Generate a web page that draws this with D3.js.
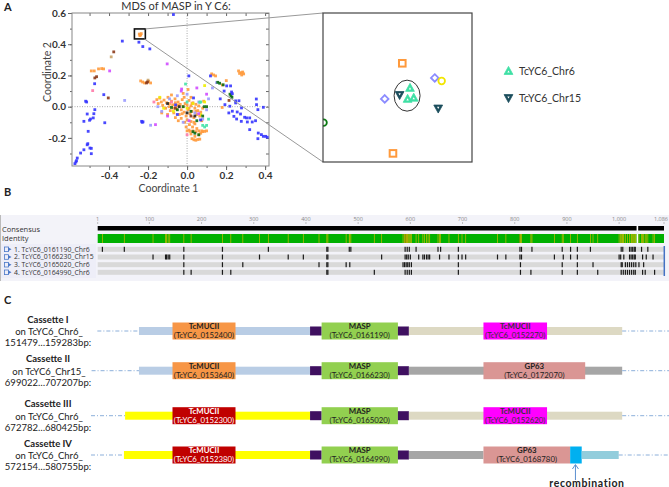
<!DOCTYPE html>
<html><head><meta charset="utf-8">
<script src="https://cdn.jsdelivr.net/npm/d3@7"></script>
<style>body{margin:0;background:#fff}svg{display:block}</style>
</head><body>
<script>
// ================= DATA =================
// Panel A: MDS scatter
const mdsTitle = "MDS of MASP  in Y C6:";
const xTicks = [-0.4, -0.2, 0.0, 0.2, 0.4];
const yTicks = [0.6, 0.4, 0.2, 0.0, -0.2];
const groupColors = {
  blue: "#3535ff", orange: "#ff9a3c", lavender: "#9a9aff", magenta: "#d04cff",
  pink: "#ff7aa8", brown: "#8b3a1a", tan: "#c9a46a", yellow: "#eeee00",
  darkgreen: "#0b6b12", aqua: "#45e3a8", black: "#222222"
};
const blueGroup = [[-0.332,0.42],[-0.247,0.413],[-0.227,0.385],[-0.191,0.37],[-0.474,0.147],[-0.427,0.077],[-0.52,0.035],[-0.515,0.03],[-0.512,-0.047],[-0.473,-0.019],[-0.478,-0.045],[-0.481,-0.072],[-0.495,-0.079],[-0.5,-0.087],[-0.529,-0.094],[-0.422,-0.103],[-0.233,-0.094],[-0.23,-0.1],[-0.226,-0.097],[-0.507,-0.158],[-0.509,-0.237],[-0.512,-0.244],[-0.498,-0.265],[-0.491,-0.267],[-0.529,-0.276],[-0.546,-0.297],[-0.491,-0.301],[-0.563,-0.329],[-0.57,-0.354],[-0.567,-0.346],[-0.575,-0.365],[-0.07,0.59],[0.009,0.197],[0.12,0.197],[0.223,0.133],[0.203,0.133],[0.249,0.037],[0.228,0.094],[0.232,0.083],[0.266,0.038],[0.249,0.024],[0.194,0.013],[0.219,0.003],[0.279,-0.008],[0.356,0.013],[0.363,-0.019],[0.214,-0.04],[0.232,-0.029],[0.257,-0.034],[0.274,-0.047],[0.24,-0.062],[0.254,-0.079],[0.295,-0.068],[0.305,-0.072],[0.321,-0.072],[0.309,-0.098],[0.278,-0.094],[0.334,-0.098],[0.351,-0.09],[0.321,-0.147],[0.365,-0.169],[0.381,-0.179],[0.391,-0.19],[0.403,-0.19],[0.411,-0.196],[0.363,-0.205],[0.355,0.049],[0.391,-0.004],[0.033,0.056],[-0.059,0.011],[0.069,-0.085],[-0.05,-0.05],[0.17,0.05],[0.19,0.1]];
const orangeGroup = [[-0.491,0.229],[-0.476,0.229],[-0.454,0.242],[-0.438,0.244],[-0.428,0.242],[-0.238,0.165],[-0.228,0.158],[-0.218,0.152],[-0.197,0.162],[-0.187,0.152],[-0.245,0.465],[-0.238,0.46],[-0.242,0.455],[-0.235,0.468],[0.136,0.203],[0.126,0.21],[0.146,0.197],[0.201,0.167],[0.181,0.139],[0.278,0.218],[0.264,0.229],[0.29,0.21],[0.28,0.203],[0.269,0.213],[0.285,0.222],
 [-0.155,0.045],[-0.148,0.02],[-0.14,0.055],[-0.132,0.03],[-0.125,0.008],[-0.118,0.042],[-0.11,-0.01],[-0.105,0.025],[-0.098,0.06],[-0.092,0.0],[-0.086,-0.025],[-0.08,0.035],[-0.074,0.012],[-0.068,-0.04],[-0.062,0.05],[-0.058,0.005],[-0.052,-0.015],[-0.046,0.03],[-0.04,-0.05],[-0.035,0.015],[-0.03,-0.02],[-0.025,0.045],[-0.02,0.0],[-0.015,-0.035],[-0.01,0.02],[-0.005,-0.06],[0.0,0.01],[0.005,-0.02],[0.01,0.04],[0.015,-0.045],[0.02,0.005],[0.025,-0.03],[0.03,0.025],[0.035,-0.07],[0.04,-0.01],[0.045,0.015],[0.05,-0.05],[0.055,-0.025],[0.06,0.005],[0.065,-0.06],[0.07,-0.035],[0.075,-0.09],[0.08,-0.01],[-0.06,-0.07],[-0.045,-0.09],[-0.03,-0.075],[-0.012,-0.1],[0.0,-0.085],[0.012,-0.115],[0.02,-0.095],[0.028,-0.13],[0.04,-0.11],[0.05,-0.14],[0.01,-0.15],[-0.005,-0.13],[0.0,-0.155],[0.015,-0.158],[0.03,-0.155],[0.045,-0.16],[0.06,-0.155],[0.075,-0.155],[0.09,-0.158],[0.1,-0.155],[0.025,-0.205],[0.035,-0.212],[0.045,-0.215],[0.055,-0.21],[0.065,-0.208],[0.04,-0.19],[0.06,-0.18],[0.07,-0.17],[0.08,-0.16],[-0.08,0.075],[-0.02,0.085],[0.02,0.06],[0.005,0.11],[0.18,-0.005],[0.085,0.035],[-0.13,-0.04],[-0.1,-0.05],
 [-0.09,0.02],[-0.07,-0.01],[-0.045,0.01],[-0.025,-0.045],[0.01,-0.01],[0.025,0.02],[0.045,-0.03],[-0.06,0.025],[-0.015,0.06],[0.035,-0.1],[0.02,-0.175]];
const lavenderGroup = [[-0.32,0.04],[-0.187,-0.119],[0.151,0.154],[-0.13,-0.03],[-0.09,0.05],[0.04,-0.04],[0.08,-0.08],[-0.02,-0.1],[0.1,-0.02],[0.0,0.08],[-0.15,0.0],[0.06,0.03],[-0.05,0.07],[0.11,0.05],[0.13,0.12]];
const magentaGroup = [[-0.102,0.274],[-0.162,-0.115],[-0.028,0.113],[-0.1,-0.06],[0.06,-0.045],[0.01,-0.09],[-0.03,0.1],[0.05,0.12],[-0.397,0.229],[0.1,0.08]];
const pinkGroup = [[-0.484,0.103],[0.0,-0.18],[-0.08,0.03],[-0.17,0.03]];
const brownGroup = [[-0.376,0.351],[-0.464,0.192],[-0.473,0.184],[-0.404,0.056],[-0.203,0.158],[-0.208,0.152],[0.02,-0.06],[-0.06,-0.01],[0.215,0.04]];
const tanGroup = [[-0.389,0.319],[-0.2,0.17]];
const yellowGroup = [[-0.12,-0.01],[-0.07,-0.03],[0.03,0.02],[0.07,-0.05],[0.09,0.03],[0.09,0.135],[-0.14,0.06],[0.0,-0.01]];
const darkgreenGroup = [[-0.05,-0.02],[-0.02,0.0],[0.02,-0.03],[0.05,-0.09],[0.04,-0.17],[0.06,-0.18],[0.1,0.0],[0.167,0.15],[0.157,0.156],[0.22,0.08],[0.23,0.06],[0.225,0.07],[0.088,0.0],[-0.08,-0.005],[0.03,-0.16],[0.08,-0.06],[0.185,0.14]];
const aquaGroup = [[0.08,-0.12],[0.09,-0.13],[0.1,-0.12],[0.0,0.03],[0.07,0.03],[-0.008,0.145],[0.065,0.028],[0.11,-0.08]];
const blackGroup = [[-0.04,0.0],[0.0,-0.04],[0.04,-0.06],[-0.1,0.02]];

// zoomed region (inset)
const insetX = [-0.270, -0.214];
const insetY = [0.434, 0.498];
const insetPoints = [
  {x:-0.2402, y:0.4764, shape:"square",  color:"#ff9a3c"},
  {x:-0.2437, y:0.4377, shape:"square",  color:"#ff9a3c"},
  {x:-0.2468, y:0.4611, shape:"diamond", color:"#8c8cff"},
  {x:-0.2280, y:0.4701, shape:"diamond", color:"#8c8cff"},
  {x:-0.2254, y:0.4688, shape:"circle",  color:"#f2e600"},
  {x:-0.2698, y:0.4509, shape:"circle",  color:"#0b7a12"},
  {x:-0.2412, y:0.4628, shape:"down",    color:"#1b4d5c"},
  {x:-0.2267, y:0.4570, shape:"down",    color:"#1b4d5c"},
  {x:-0.2373, y:0.4658, shape:"up",      color:"#3fe0a5"},
  {x:-0.2382, y:0.4611, shape:"up",      color:"#3fe0a5"},
  {x:-0.2359, y:0.4616, shape:"up",      color:"#3fe0a5"}
];
const insetCluster = {x:-0.2384, y:0.4625};
const legendItems = [{label:"TcYC6_Chr6", shape:"up", color:"#3fe0a5"},{label:"TcYC6_Chr15", shape:"down", color:"#1b4d5c"}];

// Panel B: alignment
const alnLength = 1086;
const rulerTicks = [1,100,200,300,400,500,600,700,800,900,1000,1086];
const seqNames = ["1. TcYC6_0161190_Chr6","2. TcYC6_0166230_Chr15","3. TcYC6_0165020_Chr6","4. TcYC6_0164990_Chr6"];
const seqVariants = [
  [10,52,166,240,328,440,442,483,486,590,594,598,611,653,658,692,810,813,833,891,907,920,945,1004,1007,1020,1023,1026,1029,1031,1043,1055],
  [107,131,133,136,139,166,240,311,366,395,440,442,545,590,593,596,600,616,624,627,631,634,637,656,674,692,699,706,767,783,810,813,876,893,907,920,1000,1003,1009,1020,1023,1026,1029,1031,1045,1052,1065],
  [166,240,279,425,440,442,477,484,586,589,592,595,598,602,692,811,891,920,950,1004,1006,1012,1016,1020,1024,1028,1032,1038,1047],
  [166,180,240,256,440,442,531,590,594,598,602,692,811,831,891,920,959,1004,1008,1012,1016,1020,1024,1028,1031,1045,1050,1068]
];
const consensusGaps = [1035];
const lowIdentity = [590,594,810];

// Panel C: cassettes (schematic units 0..1000)
const cassetteNames = ["Cassette I","Cassette II","Cassette III","Cassette IV"];
const cassetteChrom = ["on TcYC6_Chr6_","on TcYC6_Chr15_","on TcYC6_Chr6_","on TcYC6_Chr6_"];
const cassetteSpan = ["151479…159283bp:","699022…707207bp:","672782…680425bp:","572154…580755bp:"];
const cassetteSegments = [
  [["flank",11,83],["ubarBlue",83,379],["mucOrange",141,250,"TcMUCII","(TcYC6_0152400)"],["link",379,399],["masp",399,531,"MASP","(TcYC6_0161190)"],["link",531,550],["dbarBeige",550,919],["mucMagenta",679,789,"TcMUCII","(TcYC6_0152270)"],["flank",919,1000]],
  [["flank",1,83],["ubarBlue",83,379],["mucOrange",141,250,"TcMUCII","(TcYC6_0153640)"],["link",379,399],["masp",399,531,"MASP","(TcYC6_0166230)"],["link",531,550],["dbarGray",550,919],["gp63",679,855,"GP63","(TcYC6_0172070)"],["flank",919,1000]],
  [["flank",0,59],["ubarYellow",59,379],["mucRed",141,250,"TcMUCII","(TcYC6_0152300)"],["link",379,399],["masp",399,531,"MASP","(TcYC6_0165020)"],["link",531,550],["dbarBeige",550,919],["mucMagenta",679,789,"TcMUCII","(TcYC6_0152620)"],["flank",919,1000]],
  [["flank",0,57],["ubarYellow",57,379],["mucRed",141,250,"TcMUCII","(TcYC6_0152380)"],["link",379,399],["masp",399,531,"MASP","(TcYC6_0164990)"],["link",531,550],["dbarGray",550,679],["gp63",679,829,"GP63","(TcYC6_0168780)"],["recomb",829,849],["tailBlue",849,913],["flank",913,1000]]
];
const recombinationAt = 839;

// ================= DRAWING =================
const W = 669, H = 487;
const svg = d3.select("body").append("svg").attr("width", W).attr("height", H)
  .style("font-family", "Lato, 'Open Sans', sans-serif");

// panel letters
[["A",4,10.5],["B",4,196],["C",4,304]].forEach(([t,px,py]) =>
  svg.append("text").attr("x",px).attr("y",py).attr("font-size",11).attr("font-weight","bold").attr("fill","#222").text(t));

// ---------- Panel A ----------
const x = d3.scaleLinear().domain([-0.59, 0.42]).range([72, 269]);
const y = d3.scaleLinear().domain([-0.38, 0.6]).range([166, 13]);
const gA = svg.append("g");
gA.append("defs").append("clipPath").attr("id","plotclip").append("rect")
  .attr("x",x.range()[0]).attr("y",y.range()[1]).attr("width",x.range()[1]-x.range()[0]).attr("height",y.range()[0]-y.range()[1]);

gA.append("text").attr("x", 176).attr("y", 9.5).attr("text-anchor","middle").attr("font-size",11).attr("fill","#333").text(mdsTitle);

gA.append("line").attr("x1",x(0)).attr("x2",x(0)).attr("y1",y.range()[1]).attr("y2",y.range()[0]).attr("stroke","#aaa").attr("stroke-dasharray","1,1.5");
gA.append("line").attr("y1",y(0)).attr("y2",y(0)).attr("x1",x.range()[0]).attr("x2",x.range()[1]).attr("stroke","#aaa").attr("stroke-dasharray","1,1.5");

const fmt = d => d.toFixed(1);
const minorX = d3.range(-0.5, 0.41, 0.1).map(v => +v.toFixed(2));
const minorY = d3.range(-0.3, 0.61, 0.1).map(v => +v.toFixed(2));
function styleAxis(g){ g.select(".domain").remove(); g.selectAll("line").attr("stroke","#666"); g.selectAll("text").attr("fill","#333").attr("font-size",10).attr("font-weight","bold").attr("font-family","Lato, sans-serif"); }
gA.append("g").attr("transform",`translate(0,${y.range()[0]})`).call(d3.axisBottom(x).tickValues(xTicks).tickFormat(fmt).tickSize(4).tickPadding(2)).call(styleAxis);
gA.append("g").attr("transform",`translate(${x.range()[0]},0)`).call(d3.axisLeft(y).tickValues(yTicks).tickFormat(fmt).tickSize(4).tickPadding(2)).call(styleAxis);
gA.append("g").attr("transform",`translate(0,${y.range()[0]})`).call(d3.axisBottom(x).tickValues(minorX).tickFormat("").tickSize(2)).call(styleAxis);
gA.append("g").attr("transform",`translate(${x.range()[0]},0)`).call(d3.axisLeft(y).tickValues(minorY).tickFormat("").tickSize(2)).call(styleAxis);
gA.append("g").attr("transform",`translate(0,${y.range()[1]})`).call(d3.axisBottom(x).tickValues(minorX).tickFormat("").tickSize(3)).call(styleAxis);
gA.append("g").attr("transform",`translate(${x.range()[1]},0)`).call(d3.axisLeft(y).tickValues(minorY).tickFormat("").tickSize(3)).call(styleAxis);
gA.append("rect").attr("x",x.range()[0]).attr("y",y.range()[1]).attr("width",x.range()[1]-x.range()[0]).attr("height",y.range()[0]-y.range()[1]).attr("fill","none").attr("stroke","#888");

gA.append("text").attr("x",(x.range()[0]+x.range()[1])/2-2).attr("y",192).attr("text-anchor","middle").attr("font-size",10.5).attr("fill","#444").text("Coordinate 1");
gA.append("text").attr("transform",`translate(51,${72}) rotate(-90)`).attr("text-anchor","middle").attr("font-size",10.5).attr("fill","#444").text("Coordinate 2");

const groups = [["orange",orangeGroup],["lavender",lavenderGroup],["yellow",yellowGroup],["tan",tanGroup],["pink",pinkGroup],["magenta",magentaGroup],["aqua",aquaGroup],["brown",brownGroup],["darkgreen",darkgreenGroup],["black",blackGroup],["blue",blueGroup]];
const pts = gA.append("g").attr("clip-path","url(#plotclip)");
groups.forEach(([name, arr]) => {
  pts.selectAll(null).data(arr).join("rect")
    .attr("x", d => x(d[0]) - 1.4).attr("y", d => y(d[1]) - 1.4).attr("width",2.8).attr("height",2.8)
    .attr("fill", groupColors[name]).attr("fill-opacity",0.9);
});

const sx0 = x(insetX[0]), sx1 = x(insetX[1]), sy0 = y(insetY[1]), sy1 = y(insetY[0]);
gA.append("rect").attr("x",sx0).attr("y",sy0).attr("width",sx1-sx0).attr("height",sy1-sy0).attr("fill","none").attr("stroke","#111").attr("stroke-width",1.6);

const ix = d3.scaleLinear().domain(insetX).range([323, 472]);
const iy = d3.scaleLinear().domain(insetY).range([162, 13]);
gA.append("line").attr("x1",sx1).attr("y1",sy0).attr("x2",ix.range()[0]).attr("y2",iy.range()[1]).attr("stroke","#999").attr("stroke-width",1);
gA.append("line").attr("x1",sx1-1).attr("y1",sy1).attr("x2",ix.range()[0]).attr("y2",iy.range()[0]).attr("stroke","#999").attr("stroke-width",1);

const gI = svg.append("g");
gI.append("defs").append("clipPath").attr("id","insetclip").append("rect").attr("x",323).attr("y",13).attr("width",149).attr("height",149);
gI.append("rect").attr("x",323).attr("y",13).attr("width",149).attr("height",149).attr("fill","#fff");
const ig = gI.append("g").attr("clip-path","url(#insetclip)");
ig.append("ellipse").attr("cx",ix(insetCluster.x)).attr("cy",iy(insetCluster.y)).attr("rx",13).attr("ry",15.5).attr("fill","none").attr("stroke","#333").attr("stroke-width",1);
function drawMarker(g, px, py, shape, color){
  if (shape === "square") {
    g.append("rect").attr("x",px-3.3).attr("y",py-3.3).attr("width",6.6).attr("height",6.6).attr("fill","#fff").attr("stroke",color).attr("stroke-width",2);
  } else if (shape === "diamond") {
    g.append("path").attr("d",`M${px},${py-3.8}L${px+3.8},${py}L${px},${py+3.8}L${px-3.8},${py}Z`).attr("fill","#fff").attr("stroke",color).attr("stroke-width",1.8);
  } else if (shape === "circle") {
    g.append("circle").attr("cx",px).attr("cy",py).attr("r",3.3).attr("fill","#fff").attr("stroke",color).attr("stroke-width",1.8);
  } else {
    const s = shape === "up" ? 1 : -1;
    g.append("path").attr("d",`M${px},${py-4.6*s}L${px+4.4},${py+3.4*s}L${px-4.4},${py+3.4*s}Z`).attr("fill",color).attr("stroke",color).attr("stroke-width",0.8);
    g.append("path").attr("d",`M${px},${py-0.6*s}L${px+1.2},${py+1.6*s}L${px-1.2},${py+1.6*s}Z`).attr("fill","#fff");
  }
}
insetPoints.forEach(p => drawMarker(ig, ix(p.x), iy(p.y), p.shape, p.color));
gI.append("rect").attr("x",323).attr("y",13).attr("width",149).attr("height",149).attr("fill","none").attr("stroke","#444").attr("stroke-width",1.2);

legendItems.forEach((d,i) => {
  const ly = 71 + i*27;
  drawMarker(svg, 508.5, ly, d.shape, d.color);
  svg.append("text").attr("x",519).attr("y",ly+4).attr("font-size",10.5).attr("fill","#333").text(d.label);
});

// ---------- Panel B ----------
const xb = d3.scaleLinear().domain([1, alnLength]).range([97.7, 664]);
const gB = svg.append("g").style("font-family","'Open Sans', 'Noto Sans', sans-serif");
gB.append("rect").attr("x",0).attr("y",215).attr("width",W).attr("height",66).attr("fill","#f3f3f9");
gB.append("rect").attr("x",0).attr("y",244).attr("width",96).attr("height",34).attr("fill","#eeeef8");
gB.append("line").attr("x1",0.5).attr("x2",0.5).attr("y1",215).attr("y2",281).attr("stroke","#bbb");
gB.selectAll(".rt").data(rulerTicks).join("text").attr("x",(d,i)=> i === rulerTicks.length-1 ? 668 : xb(d)).attr("y",221)
  .attr("text-anchor",(d,i)=> i === rulerTicks.length-1 ? "end" : "middle").attr("font-size",5.5).attr("fill","#888").text(d=>d3.format(",")(d));
gB.selectAll(".rtl").data(rulerTicks).join("line").attr("x1",d=>xb(d)).attr("x2",d=>xb(d)).attr("y1",222).attr("y2",224).attr("stroke","#999").attr("stroke-width",0.6);
gB.append("rect").attr("x",xb(1)).attr("y",226).attr("width",xb(alnLength)-xb(1)).attr("height",4.5).attr("fill","#000");
gB.selectAll(".cg").data(consensusGaps).join("rect").attr("x",d=>xb(d)-0.8).attr("y",225.5).attr("width",1.6).attr("height",5.5).attr("fill","#fff");
gB.append("rect").attr("x",xb(1)).attr("y",234).attr("width",xb(alnLength)-xb(1)).attr("height",9).attr("fill","#00b000");
const allVar = Array.from(new Set(seqVariants.flat())).sort((a,b)=>a-b);
gB.selectAll(".iv").data(allVar).join("rect").attr("x",d=>xb(d)-0.4).attr("y",234).attr("width",0.8).attr("height",9)
  .attr("fill", d => lowIdentity.includes(d) ? "#e07800" : "#b5b800");
gB.selectAll(".cg2").data(consensusGaps).join("rect").attr("x",d=>xb(d)-0.8).attr("y",234).attr("width",1.6).attr("height",9).attr("fill","#fff");
gB.append("text").attr("x",2).attr("y",231.5).attr("font-size",7.5).attr("fill","#333").text("Consensus");
gB.append("text").attr("x",2).attr("y",240.5).attr("font-size",7.5).attr("fill","#333").text("Identity");
const rowY = [249.3, 257, 264.7, 272.3];
seqNames.forEach((name, i) => {
  const ry = rowY[i];
  gB.append("rect").attr("x",xb(1)).attr("y",ry-2.5).attr("width",xb(alnLength)-xb(1)).attr("height",5).attr("fill","#d9d9d9");
  gB.selectAll(null).data(seqVariants[i]).join("rect").attr("x",d=>xb(d)-0.6).attr("y",ry-2.5).attr("width",1.2).attr("height",5).attr("fill","#1a1a1a");
  gB.append("rect").attr("x",4.5).attr("y",ry-2.3).attr("width",4).attr("height",4.6).attr("fill","none").attr("stroke","#4a78c8").attr("stroke-width",0.8);
  gB.append("path").attr("d",`M8,${ry-2}L11.5,${ry}L8,${ry+2}Z`).attr("fill","#4a78c8");
  gB.append("text").attr("x",14).attr("y",ry+2.4).attr("font-size",6.9).attr("fill","#333").text(name);
});
gB.append("line").attr("x1",664.3).attr("x2",664.3).attr("y1",246).attr("y2",276).attr("stroke","#4472c4").attr("stroke-width",1.5);

// ---------- Panel C ----------
const xc = d3.scaleLinear().domain([0, 1000]).range([91, 669]);
const rowC = [331, 370.7, 415.7, 455];
const segStyle = {
  flank:{dash:true},
  ubarBlue:{fill:"#b9cde5", h:8}, ubarYellow:{fill:"#ffff00", h:8},
  dbarBeige:{fill:"#ddd9c3", h:8}, dbarGray:{fill:"#a6a6a6", h:8}, tailBlue:{fill:"#92cddc", h:8},
  link:{fill:"#3f1060", h:9},
  mucOrange:{fill:"#f79646", h:17, text:"#222"}, mucRed:{fill:"#c00000", h:17, text:"#fff"},
  masp:{fill:"#92d050", h:17, text:"#222"}, mucMagenta:{fill:"#ff00ff", h:17, text:"#333"},
  gp63:{fill:"#da9694", h:17, text:"#222"}, recomb:{fill:"#00b0f0", h:17}
};
const gC = svg.append("g");
cassetteSegments.forEach((segs, i) => {
  const cy = rowC[i];
  segs.forEach(([kind, a, b, l1, l2]) => {
    const st = segStyle[kind];
    if (st.dash) {
      gC.append("line").attr("x1",xc(a)).attr("x2",xc(b)).attr("y1",cy).attr("y2",cy).attr("stroke","#7fa6d6").attr("stroke-width",0.9).attr("stroke-dasharray","4,2,1,2");
      return;
    }
    gC.append("rect").attr("x",xc(a)).attr("y",cy-st.h/2).attr("width",xc(b)-xc(a)).attr("height",st.h).attr("fill",st.fill);
    if (l1) {
      const cx = (xc(a)+xc(b))/2;
      gC.append("text").attr("x",cx).attr("y",cy-1.8).attr("text-anchor","middle").attr("font-size",7.8).attr("font-weight","bold").attr("fill",st.text).text(l1);
      gC.append("text").attr("x",cx).attr("y",cy+6.8).attr("text-anchor","middle").attr("font-size",7.8).attr("fill",st.text).text(l2);
    }
  });
  const lx = 48;
  gC.append("text").attr("x",lx).attr("y",cy-8.3).attr("text-anchor","middle").attr("font-size",9.5).attr("font-weight","bold").attr("fill","#222").text(cassetteNames[i]);
  gC.append("text").attr("x",lx+1).attr("y",cy+3.8).attr("text-anchor","middle").attr("font-size",9.5).attr("fill","#222").text(cassetteChrom[i]);
  gC.append("text").attr("x",lx).attr("y",cy+15.3).attr("text-anchor","middle").attr("font-size",9.5).attr("fill","#222").text(cassetteSpan[i]);
});
const ax = xc(recombinationAt) - 0.5;
gC.append("line").attr("x1",ax).attr("x2",ax).attr("y1",480).attr("y2",465).attr("stroke","#5b8fd0").attr("stroke-width",1);
gC.append("path").attr("d",`M${ax-3},${469}L${ax},${464.5}L${ax+3},${469}`).attr("fill","none").attr("stroke","#5b8fd0").attr("stroke-width",1);
gC.append("text").attr("x",587).attr("y",486.5).attr("text-anchor","middle").attr("font-size",10.5).attr("font-weight","bold").attr("letter-spacing",0.6).attr("fill","#222").text("recombination");
</script>
</body></html>
